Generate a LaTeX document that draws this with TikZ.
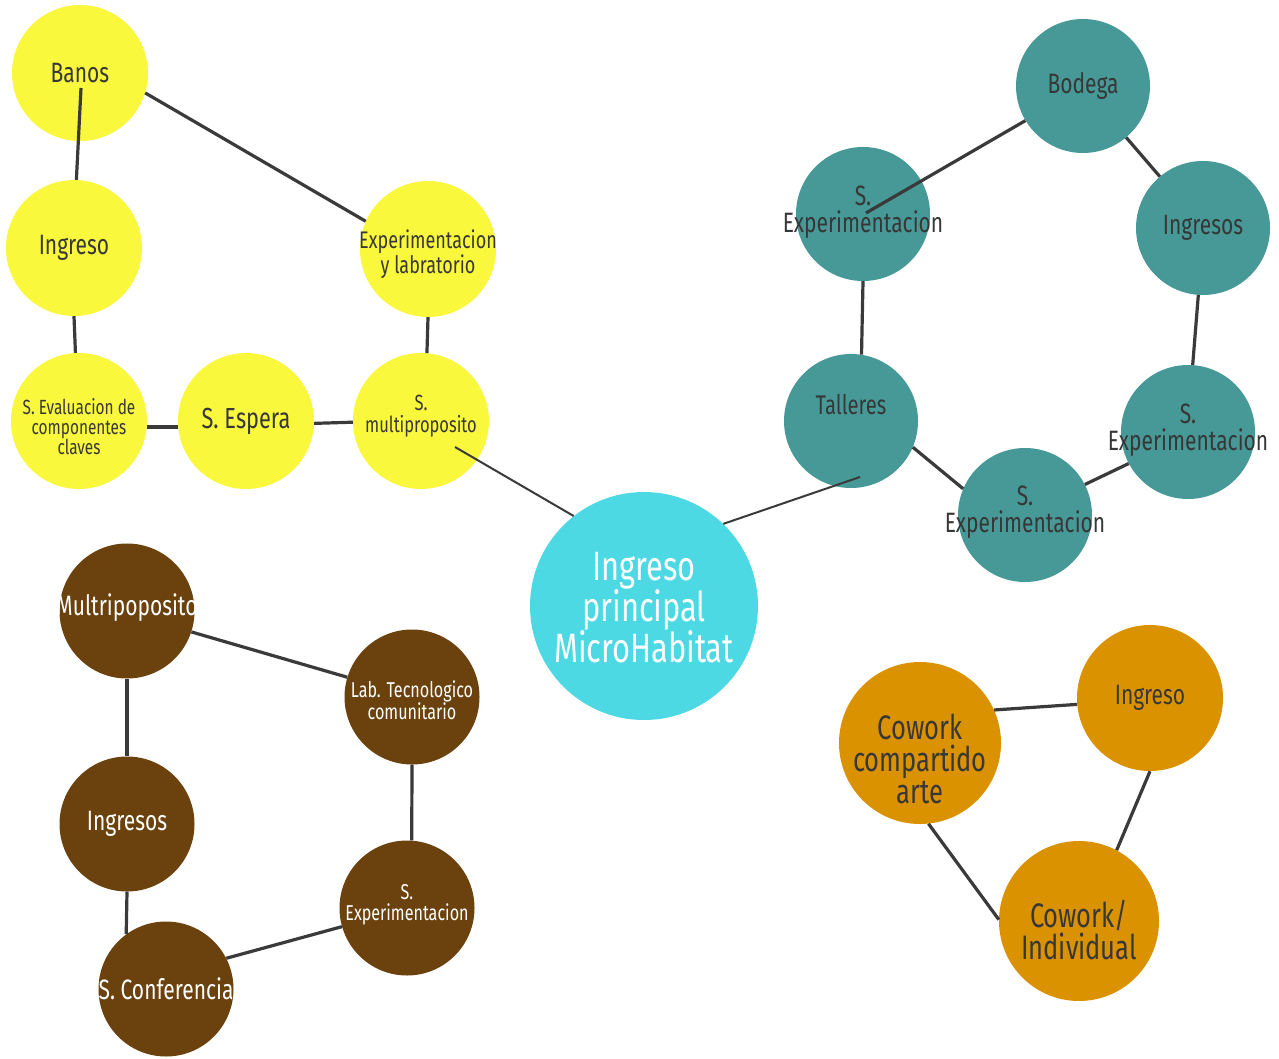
\documentclass[tikz,border=0pt]{standalone}
\usepackage{fontspec}
\setmainfont[FakeStretch=0.75]{Fira Sans}
\begin{document}
\begin{tikzpicture}[x=1pt,y=-1pt,
  every label/.style={align=center, inner sep=0pt},
  place/.style={circle, inner sep=0pt, minimum size=#1},
  yelnode/.style={place=#1, fill=cYel},
  tealnode/.style={place=#1, fill=cTeal},
  brownnode/.style={place=#1, fill=cBrown},
  orangenode/.style={place=#1, fill=cOrange},
  hubnode/.style={place=#1, fill=cHub},
  dark/.style={text=cText},
  light/.style={text=white},
  fs/.style={font=\fontsize{#1}{#1}\selectfont},
  conn/.style={draw=cLine, line width=3.2pt},
  hubconn/.style={draw=cLine, line width=2pt}]
\definecolor{cYel}{RGB}{250,248,60}
\definecolor{cTeal}{RGB}{70,153,151}
\definecolor{cBrown}{RGB}{107,66,13}
\definecolor{cOrange}{RGB}{219,146,0}
\definecolor{cHub}{RGB}{76,217,228}
\definecolor{cText}{RGB}{55,55,55}
\definecolor{cLine}{RGB}{58,58,58}
\useasboundingbox[fill=white] (0,0) rectangle (1279,1059);

% yellow cluster
\node[yelnode=136, label={[dark,fs=28]center:Banos}] (ban) at (80,73) {};
\node[yelnode=136, label={[dark,fs=28]center:Ingreso}] (ing) at (74,248) {};
\node[yelnode=136, label={[dark,font=\fontsize{24}{23}\selectfont, yshift=-5pt]center:Experimentacion\\y labratorio}] (exp) at (428,249) {};
\node[yelnode=136, label={[dark,font=\fontsize{20.5}{20}\selectfont, yshift=-6pt]center:S. Evaluacion de\\componentes\\claves}] (eva) at (79,421) {};
\node[yelnode=136, label={[dark,fs=29]center:S. Espera}] (esp) at (246,421) {};
\node[yelnode=136, label={[dark,font=\fontsize{22}{22}\selectfont, yshift=5pt]center:S.\\multiproposito}] (mpy) at (421,421) {};

% central node
\node[hubnode=228, label={[light,font=\fontsize{41}{41}\selectfont, yshift=-2pt]center:Ingreso\\principal\\MicroHabitat}] (hub) at (644,606) {};

% teal cluster
\node[tealnode=134, label={[dark,fs=28]center:Bodega}] (bod) at (1083,86) {};
\node[tealnode=134, label={[dark,font=\fontsize{28}{27}\selectfont, yshift=2pt]center:S.\\Experimentacion}] (sxa) at (863,214) {};
\node[tealnode=134, label={[dark,fs=28]center:Ingresos}] (ins) at (1203,228) {};
\node[tealnode=134, label={[dark,fs=27, yshift=16pt]center:Talleres}] (tal) at (851,421) {};
\node[tealnode=134, label={[dark,font=\fontsize{28}{27}\selectfont, yshift=2pt]center:S.\\Experimentacion}] (sxb) at (1188,432) {};
\node[tealnode=134, label={[dark,font=\fontsize{28}{27}\selectfont, yshift=3pt]center:S.\\Experimentacion}] (sxc) at (1025,515) {};

% brown cluster
\node[brownnode=135, label={[light,fs=28, yshift=3pt]center:Multripoposito}] (mul) at (127,611) {};
\node[brownnode=135, label={[light,font=\fontsize{21.5}{21}\selectfont, yshift=-3pt]center:Lab. Tecnologico\\comunitario}] (lab) at (412,697) {};
\node[brownnode=135, label={[light,fs=28]center:Ingresos}] (ibr) at (127,824) {};
\node[brownnode=135, label={[light,font=\fontsize{21.5}{21}\selectfont, yshift=3pt]center:S.\\Experimentacion}] (sxd) at (407,908) {};
\node[brownnode=135, label={[light,fs=28]center:S. Conferencia}] (con) at (166,989) {};

% orange cluster
\node[orangenode=162, label={[dark,font=\fontsize{34}{32}\selectfont, yshift=-16pt]center:Cowork\\compartido\\arte}] (cow) at (920,743) {};
\node[orangenode=146, label={[dark,fs=28]center:Ingreso}] (ior) at (1150,698) {};
\node[orangenode=160, label={[dark,font=\fontsize{34}{32}\selectfont, yshift=-9pt]center:Cowork/\\Individual}] (ind) at (1079,921) {};

% free line ends inside circles
\coordinate (banIn) at (81,88);
\coordinate (mpyIn) at (455,447);
\coordinate (sxaIn) at (866,213);
\coordinate (talIn) at (860,477);

% yellow connectors
\draw[conn] (banIn) -- (ing.88);
\draw[conn] (ban.-17) -- (exp.156);
\draw[conn] (ing.-90) -- (eva.93);
\draw[conn] (exp.-90) -- (mpy.85);
\draw[conn] (eva.-5) -- (esp.185);
\draw[conn] (esp.-2) -- (mpy.181);
\draw[hubconn] (mpyIn) -- (hub.128);

% teal connectors
\draw[conn] (bod.211) -- (sxaIn);
\draw[conn] (bod.-50) -- (ins.130);
\draw[conn] (ins.-94) -- (sxb.86);
\draw[conn] (sxb.208) -- (sxc.27);
\draw[conn] (tal.-23) -- (sxc.157);
\draw[conn] (sxa.-90) -- (tal.81);
\draw[hubconn] (talIn) -- (hub.46);

% brown connectors
\draw[conn] (mul.-18) -- (lab.163);
\draw[conn] (mul.-90) -- (ibr.90);
\draw[conn] (lab.-90) -- (sxd.86);
\draw[conn] (ibr.-90) -- (con.126);
\draw[conn] (con.27) -- (sxd.196);

% orange connectors
\draw[conn] (cow.24) -- (ior.185);
\draw[conn] (ior.-90) -- (ind.62);
\draw[conn] (cow.-84) -- (ind.179);
\end{tikzpicture}
\end{document}
